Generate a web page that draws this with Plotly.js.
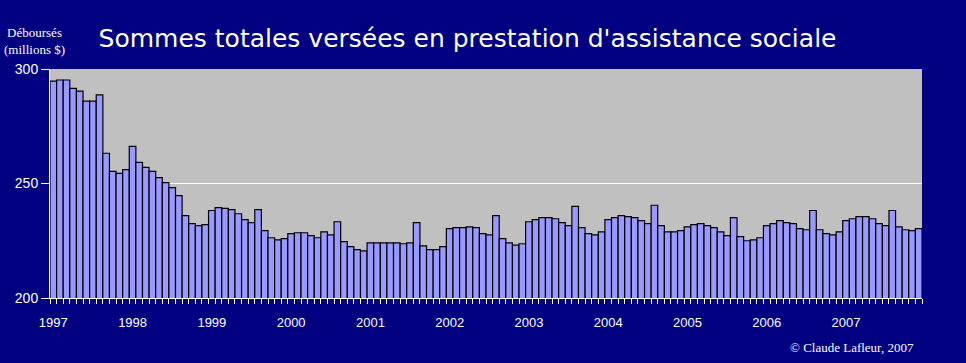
<!DOCTYPE html>
<html>
<head>
<meta charset="utf-8">
<script src="https://cdn.plot.ly/plotly-3.0.1.min.js"></script>
<style>html,body{margin:0;padding:0;background:#000080;}#chart{width:966px;height:363px;}</style>
</head>
<body>
<div id="chart"></div>
<script>
const years = ["1997","1998","1999","2000","2001","2002","2003","2004","2005","2006","2007"];
const monthsPerYear = 12;
const values = [
  294.7,295.2,295.2,291.5,290.3,286.0,286.0,288.7,263.2,255.3,254.4,256.1,
  266.2,259.2,257.0,255.3,252.6,250.4,248.2,244.7,236.0,232.5,231.6,232.0,
  238.2,239.5,239.1,238.6,236.8,234.2,232.9,238.6,229.4,226.3,225.4,225.9,
  228.1,228.5,228.5,227.2,226.3,228.9,227.6,233.3,224.6,222.4,221.1,220.6,
  224.1,224.1,224.1,224.1,224.1,223.7,224.1,232.9,222.8,221.1,221.1,222.4,
  230.3,230.7,230.7,231.1,230.7,228.1,227.6,236.0,225.9,224.1,223.1,223.7,
  233.3,234.2,235.1,235.1,234.6,232.9,231.6,240.0,230.7,228.1,227.6,228.9,
  234.2,235.1,236.0,235.5,235.1,233.8,232.5,240.5,231.6,228.9,228.9,229.4,
  231.1,232.0,232.5,231.6,230.7,228.9,227.2,235.1,226.8,225.0,225.4,226.3,
  231.6,232.5,233.8,232.9,232.5,230.3,229.8,238.2,229.8,228.1,227.6,228.9,
  233.8,234.6,235.5,235.5,234.6,232.5,231.6,238.2,231.1,229.8,229.4,230.3
];
const categories = [];
const tickText = [];
years.forEach(y => {
  for (let m = 1; m <= monthsPerYear; m++) {
    categories.push(y + "-" + (m < 10 ? "0" + m : m));
    tickText.push(m === 1 ? y : "");
  }
});

const trace = {
  type: "bar",
  x: categories,
  y: values,
  marker: {color: "#9999FF", line: {color: "#000000", width: 1.2}},
  hoverinfo: "x+y"
};

const layout = {
  width: 966, height: 363,
  paper_bgcolor: "#000080",
  plot_bgcolor: "#C0C0C0",
  margin: {l: 50, r: 44, t: 69, b: 65},
  bargap: 0,
  showlegend: false,
  title: {
    text: "Sommes totales versées en prestation d'assistance sociale",
    font: {family: "DejaVu Sans", size: 25, color: "#FFFFFF"},
    x: 0.484, xanchor: "center", y: 0.895, yanchor: "middle"
  },
  xaxis: {
    type: "category",
    tickmode: "array",
    tickvals: categories,
    ticktext: tickText,
    tickson: "boundaries",
    ticks: "outside", ticklen: 5, tickcolor: "#FFFFFF", tickwidth: 1,
    ticklabelstandoff: 12,
    showline: true, linecolor: "#FFFFFF", linewidth: 1,
    showgrid: false,
    tickangle: 0,
    tickfont: {family: "Liberation Sans", size: 13, color: "#FFFFFF"},
    fixedrange: true
  },
  yaxis: {
    range: [200, 300],
    tickvals: [200, 250, 300],
    ticks: "outside", ticklen: 8, tickcolor: "#FFFFFF",
    showline: true, linecolor: "#FFFFFF", linewidth: 1,
    showgrid: true, gridcolor: "#FFFFFF", gridwidth: 1,
    zeroline: false,
    tickfont: {family: "Liberation Sans", size: 14, color: "#FFFFFF"},
    fixedrange: true
  },
  annotations: [
    {text: "Déboursés<br>(millions $)", xref: "paper", yref: "paper",
     x: -0.055, y: 1.2, xanchor: "left", yanchor: "top", align: "center", showarrow: false,
     font: {family: "Liberation Serif", size: 13, color: "#FFFFFF"}},
    {text: "© Claude Lafleur, 2007", xref: "paper", yref: "paper",
     x: 0.993, y: -0.175, xanchor: "right", yanchor: "top", showarrow: false,
     font: {family: "Liberation Serif", size: 13, color: "#FFFFFF"}}
  ]
};

Plotly.newPlot("chart", [trace], layout, {displayModeBar: false, staticPlot: true});
</script>
</body>
</html>
